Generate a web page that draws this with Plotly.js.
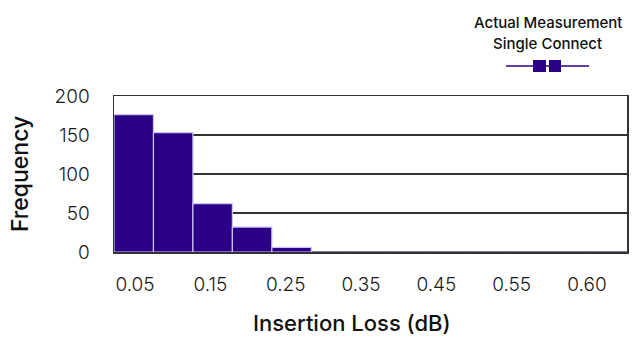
<!DOCTYPE html>
<html>
<head>
<meta charset="utf-8">
<script src="https://cdn.plot.ly/plotly-3.0.1.min.js"></script>
<style>html,body{margin:0;padding:0;background:#fff;}#chart{width:641px;height:355px;}</style>
</head>
<body>
<div id="chart"></div>
<script>
// Bin centres (dB) and counts
var binCenters = [0.05, 0.10, 0.15, 0.20, 0.25, 0.30, 0.35, 0.40, 0.45, 0.50, 0.55, 0.60, 0.65];
var frequency  = [176, 153, 62, 32, 6, 0, 0, 0, 0, 0, 0, 0, 0];
var xTickLabels = ["0.05", "0.15", "0.25", "0.35", "0.45", "0.55", "0.60"];
var yTicks = [0, 50, 100, 150, 200];
var seriesName = "Actual Measurement Single Connect";
var legendLines = ["Actual Measurement", "Single Connect"];
var xTitle = "Insertion Loss (dB)";
var yTitle = "Frequency";

var barColor = "#2a0087";
var gridColor = "#333333";
var fontFam = "Inter, 'Open Sans', sans-serif";

var traces = [
  {
    type: "bar",
    name: seriesName,
    x: binCenters,
    y: frequency,
    width: 0.05,
    marker: {color: barColor, line: {color: "#cfc2f5", width: 1.2}},
    showlegend: false,
    hoverinfo: "x+y"
  },
  {
    type: "scatter",
    mode: "markers",
    x: xTickLabels,
    y: xTickLabels.map(function(){ return null; }),
    xaxis: "x2",
    yaxis: "y",
    showlegend: false,
    hoverinfo: "skip"
  }
];

var layout = {
  width: 641, height: 355,
  margin: {l: 114, r: 14, t: 96, b: 103, pad: 0},
  paper_bgcolor: "#ffffff", plot_bgcolor: "#ffffff",
  font: {family: fontFam, color: "#1a1a1a", size: 17},
  bargap: 0,
  xaxis: {
    type: "linear",
    range: [0.025, 0.675],
    showticklabels: false,
    showgrid: false,
    zeroline: false,
    showline: true, mirror: true, linecolor: gridColor, linewidth: 1.5,
    ticks: "",
    fixedrange: true
  },
  xaxis2: {
    type: "category",
    overlaying: "x",
    anchor: "y",
    side: "bottom",
    categoryorder: "array",
    categoryarray: xTickLabels,
    range: [-0.279, 6.531],
    showgrid: false, zeroline: false, showline: false,
    ticks: "outside", ticklen: 15, tickcolor: "rgba(0,0,0,0)",
    tickfont: {family: fontFam, size: 19, weight: 300, color: "#1a1a1a"},
    fixedrange: true
  },
  yaxis: {
    range: [0, 200],
    tickvals: yTicks,
    showgrid: true, gridcolor: gridColor, gridwidth: 1.5,
    zeroline: true, zerolinecolor: gridColor, zerolinewidth: 1.5,
    showline: true, mirror: true, linecolor: gridColor, linewidth: 1.5,
    ticks: "outside", ticklen: 19, tickcolor: "rgba(0,0,0,0)",
    tickfont: {family: fontFam, size: 19, weight: 300, color: "#1a1a1a"},
    fixedrange: true
  },
  annotations: [
    {text: xTitle, xref: "paper", yref: "paper", x: 0.464, y: -0.455,
     xanchor: "center", yanchor: "middle", showarrow: false,
     font: {family: fontFam, size: 22, weight: 500, color: "#111"}},
    {text: yTitle, xref: "paper", yref: "paper", x: -0.183, y: 0.5,
     xanchor: "center", yanchor: "middle", textangle: -90, showarrow: false,
     font: {family: fontFam, size: 23, weight: 500, color: "#111"}},
    {text: legendLines[0], xref: "paper", yref: "paper", x: 0.846, y: 1.468,
     xanchor: "center", yanchor: "middle", showarrow: false,
     font: {family: fontFam, size: 15, weight: 500, color: "#111"}},
    {text: legendLines[1], xref: "paper", yref: "paper", x: 0.846, y: 1.337,
     xanchor: "center", yanchor: "middle", showarrow: false,
     font: {family: fontFam, size: 15, weight: 500, color: "#111"}}
  ],
  shapes: [
    {type: "line", xref: "paper", yref: "paper", x0: 0.7641, x1: 0.9259, y0: 1.1923, y1: 1.1923,
     line: {color: barColor, width: 1.5}},
    {type: "rect", xref: "paper", yref: "paper", x0: 0.8168, x1: 0.8421, y0: 1.1538, y1: 1.2308,
     fillcolor: barColor, line: {color: barColor, width: 0}},
    {type: "rect", xref: "paper", yref: "paper", x0: 0.8480, x1: 0.8713, y0: 1.1538, y1: 1.2308,
     fillcolor: barColor, line: {color: barColor, width: 0}}
  ]
};

Plotly.newPlot("chart", traces, layout, {displayModeBar: false, staticPlot: true});
</script>
</body>
</html>
